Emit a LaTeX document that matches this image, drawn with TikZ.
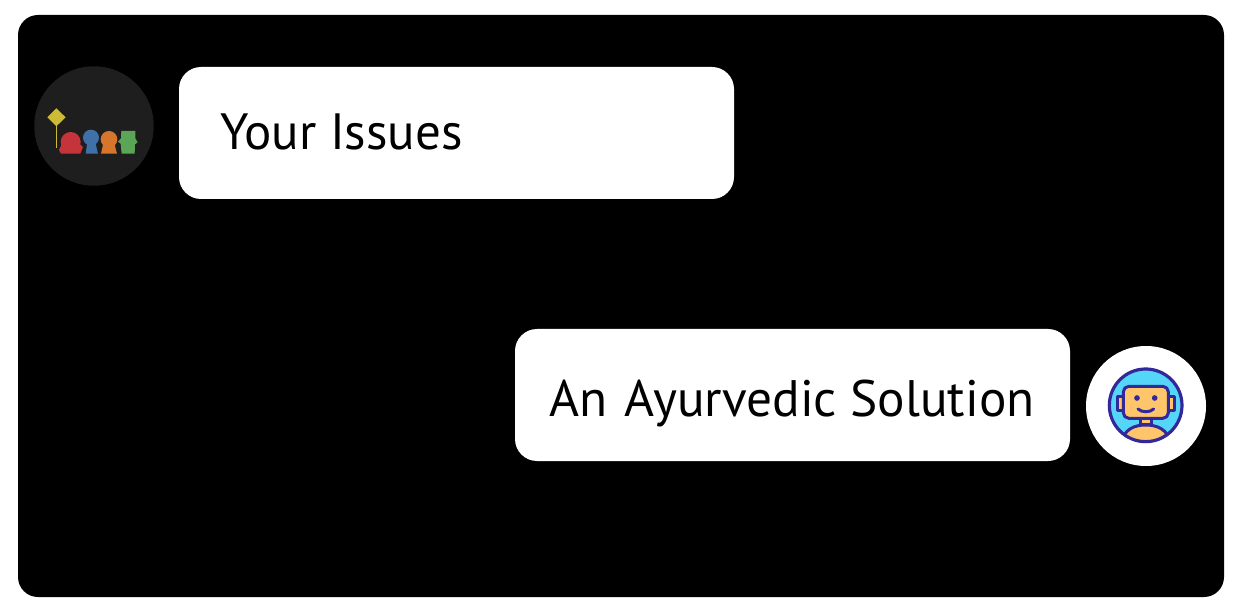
\documentclass[tikz,border=0pt]{standalone}
\usepackage{fontspec}
\setmainfont{PT Sans}
\definecolor{logobg}{HTML}{1E1E1E}
\definecolor{lyellow}{HTML}{CDBB38}
\definecolor{lred}{HTML}{C4343A}
\definecolor{lblue}{HTML}{3F70A8}
\definecolor{lorange}{HTML}{D6762C}
\definecolor{lgreen}{HTML}{5AA556}
\definecolor{rsky}{HTML}{55D6F8}
\definecolor{rskin}{HTML}{FFC56B}
\definecolor{rline}{HTML}{33289A}
\tikzset{
  panel/.style={fill=black,draw=none,rounded corners=20},
  bubble/.style={fill=white,draw=none,rounded corners=22},
  avatar/.style={circle,draw=none,inner sep=0pt,minimum size=#1},
  msg/.style={anchor=base west,inner sep=0pt,font=\fontsize{#1}{52}\selectfont,text=black},
  rstroke/.style={draw=rline,line width=3pt,fill=rskin,line join=round}
}
\begin{document}
\begin{tikzpicture}[x=1pt,y=-1pt]
\useasboundingbox (0,0) rectangle (1237,612);
\fill[white] (0,0) rectangle (1237,612);
\path[panel] (18,15) rectangle (1224,597);
\path[bubble] (179,67) rectangle (734,199);
\path[bubble] (515,329) rectangle (1070,461);
\node[msg=51] (issues) at (220,150) {Your Issues};
\node[msg=51.3] (solution) at (549,416) {An\hspace{4pt} Ayurvedic Solution};
\node[avatar=119.5pt,fill=logobg] (logo) at (94,126) {};
\node[avatar=120pt,fill=white] (bot) at (1146,406) {};
% logo, drawn in the coordinates of the 3x crop
\begin{scope}[shift={(20,55)},x=0.3333pt,y=-0.3333pt]
  \fill[lyellow] (109,160) -- (137,187) -- (109,214) -- (82,187) -- cycle;
  \fill[lyellow] (107,210) rectangle (112,280);
  \fill[lred] (152,261) circle[radius=30];
  \fill[lred] (123,296) -- (117,285) -- (125,268) -- (180,268) -- (189,276) -- (181,296) -- cycle;
  \fill[lblue] (213,248) circle[radius=24];
  \fill[lblue] (197,296) -- (202,262) -- (226,262) -- (234,296) -- cycle;
  \fill[lorange] (267,253) circle[radius=25];
  \fill[lorange] (243,296) -- (250,265) -- (283,265) -- (291,296) -- cycle;
  \fill[lgreen] (305,296) -- (302,266) -- (294,260) -- (303,250) -- (304,228) -- (346,228)
     -- (346,250) -- (353,262) -- (345,268) -- (344,296) -- cycle;
\end{scope}
% robot, drawn in the coordinates of the 3x crop
\begin{scope}[shift={(1075,335)},x=0.3333pt,y=-0.3333pt]
  \fill[rsky] (212,211) circle[radius=111];
  \draw[rstroke] (128,186) rectangle (145,226);
  \draw[rstroke] (280,186) rectangle (297,226);
  \draw[rstroke] (197,250) rectangle (228,270);
  \begin{scope}
    \clip (212,211) circle[radius=111];
    \draw[rstroke] (140,325) .. controls (145,282) and (180,270) .. (212,270)
      .. controls (245,270) and (280,282) .. (285,325) -- cycle;
  \end{scope}
  \draw[rstroke,rounded corners=5.5] (145,154) rectangle (280,250);
  \draw[draw=rline,line width=3.2pt] (212,211) circle[radius=109];
  \fill[rline] (186,189) circle[radius=8.5] (239,189) circle[radius=8.5];
  \draw[draw=rline,line width=3pt,line cap=round] (189,222) .. controls (200,233) and (225,233) .. (236,222);
\end{scope}
\end{tikzpicture}
\end{document}
